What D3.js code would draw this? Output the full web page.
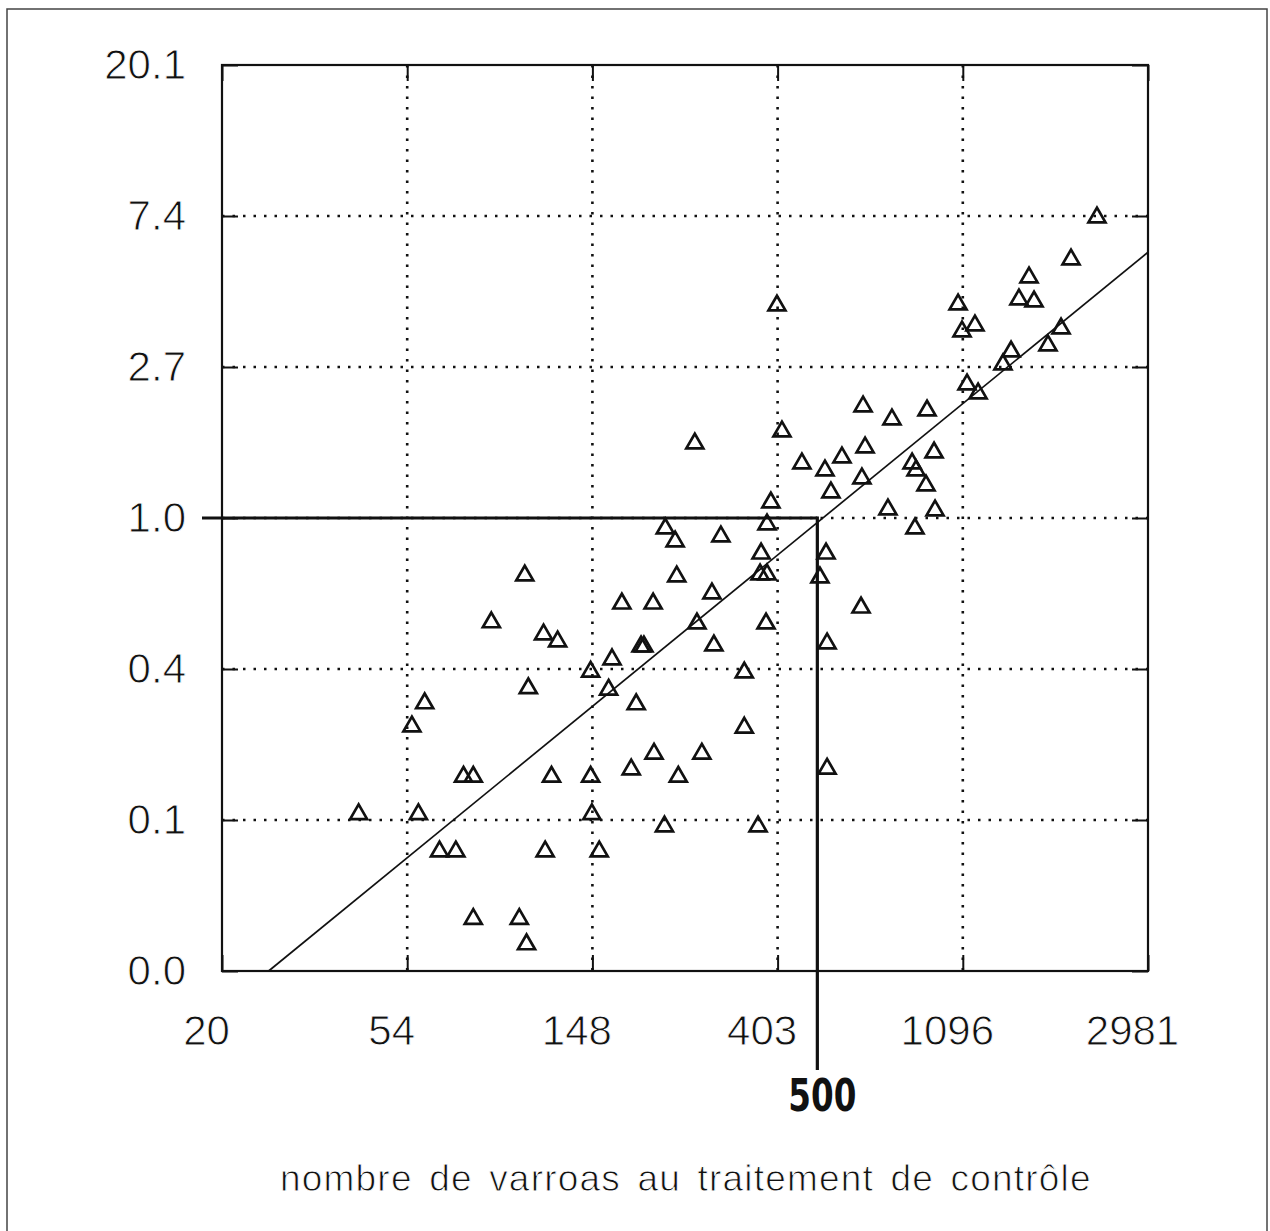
<!DOCTYPE html>
<html>
<head>
<meta charset="utf-8">
<script src="https://cdn.jsdelivr.net/npm/d3@7"></script>
<style>
  body { margin: 0; background: #fff; }
  svg text { font-family: "Liberation Sans", Arial, sans-serif; fill: #111; }
  /* the scan has thin lettering: erode the glyphs a little with a white outline */
  svg text.thin { stroke: #fff; stroke-width: 0.9px; paint-order: normal; }
</style>
</head>
<body>
<div id="display"></div>
<script>
// ------- data -----------------------------------------

// axes are natural-log scales, labels are e^k
var xTickPowers = [3, 4, 5, 6, 7, 8];
var xTickLabels = ["20", "54", "148", "403", "1096", "2981"];
var yTickPowers = [-3, -2, -1, 0, 1, 2, 3];
var yTickLabels = ["0.0", "0.1", "0.4", "1.0", "2.7", "7.4", "20.1"];

// nombre de varroas au traitement de contrôle
var controlCounts = [42, 56, 60, 58, 65, 71, 74, 78, 78, 86, 100, 103, 104, 105, 114, 115,
  119, 123, 147, 147, 148, 154, 162, 165, 174, 183, 188, 193, 196, 206, 207, 220, 219, 232,
  234, 236, 261, 258, 268, 283, 286, 297, 337, 337, 363, 369, 367, 381, 381, 379, 389, 402,
  413, 460, 507, 524, 521, 527, 527, 538, 571, 633, 636, 640, 647, 732, 748, 834, 852, 847,
  899, 904, 939, 944, 1069, 1092, 1122, 1171, 1191, 1362, 1423, 1485, 1568, 1611, 1737,
  1864, 1967, 2263];

var yValues = [0.142, 0.254, 0.296, 0.142, 0.111, 0.111, 0.182, 0.182, 0.071, 0.506, 0.071,
  0.690, 0.060, 0.327, 0.467, 0.111, 0.182, 0.446, 0.365, 0.182, 0.142, 0.111, 0.324, 0.396,
  0.573, 0.191, 0.294, 0.431, 0.431, 0.573, 0.212, 0.942, 0.131, 0.865, 0.686, 0.182, 0.502,
  1.654, 0.212, 0.613, 0.434, 0.894, 0.363, 0.252, 0.131, 0.798, 0.695, 0.695, 0.968, 0.502,
  1.119, 4.125, 1.791, 1.449, 0.681, 0.798, 1.384, 0.440, 0.192, 1.196, 1.508, 0.558, 1.312,
  2.114, 1.611, 1.069, 1.940, 1.449, 1.384, 0.942, 1.253, 2.058, 1.558, 1.062, 4.153, 3.473,
  2.446, 3.614, 2.304, 2.791, 3.042, 4.293, 4.966, 4.236, 3.166, 3.542, 5.596, 7.389];

// regression on ln scales: ln(y) = a + b ln(x)
var fitIntercept = -6.26;
var fitSlope = 1.0025;

// reference point marked on the figure
var refX = 500;
var refY = 1.0;
var refLabel = "500";

var axisTitle = "nombre de varroas au traitement de contrôle";

// ------- setup -----------

var W = 1270, H = 1231;
var plot = {left: 222, right: 1148, top: 65, bottom: 971};

var svg = d3.select("#display").append("svg")
  .attr("width", W)
  .attr("height", H)
  .style("display", "block");

svg.append("rect").attr("width", W).attr("height", H).attr("fill", "#fff");

// outer frame of the figure (bottom edge runs off the scan)
svg.append("rect")
  .attr("x", 7).attr("y", 9)
  .attr("width", 1260).attr("height", 1240)
  .attr("fill", "none").attr("stroke", "#444").attr("stroke-width", 1.5);

var x = d3.scaleLog().base(Math.E)
  .domain([Math.exp(3), Math.exp(8)])
  .range([plot.left, plot.right]);

var y = d3.scaleLog().base(Math.E)
  .domain([Math.exp(-3), Math.exp(3)])
  .range([plot.bottom, plot.top]);

var xTicks = xTickPowers.map(function(p) { return Math.exp(p); });
var yTicks = yTickPowers.map(function(p) { return Math.exp(p); });

function labelFor(ticks, labels) {
  return function(d) { return labels[ticks.indexOf(d)]; };
}

// ------- dotted grid -----------

var grid = svg.append("g")
  .attr("stroke", "#111")
  .attr("stroke-width", 2.6)
  .attr("stroke-dasharray", "2.5,8");

grid.selectAll("line.gx")
  .data(xTicks.slice(1, -1))
  .enter().append("line")
  .attr("x1", function(d) { return x(d); })
  .attr("x2", function(d) { return x(d); })
  .attr("y1", plot.top).attr("y2", plot.bottom);

grid.selectAll("line.gy")
  .data(yTicks.slice(1, -1))
  .enter().append("line")
  .attr("y1", function(d) { return y(d); })
  .attr("y2", function(d) { return y(d); })
  .attr("x1", plot.left).attr("x2", plot.right);

// ------- axes, ticks pointing inward on all four sides -----------

function styleAxis(g) {
  g.select(".domain").remove();
  g.selectAll(".tick line").attr("stroke", "#111").attr("stroke-width", 2);
  g.selectAll(".tick text")
    .classed("thin", true)
    .style("font-size", "42px")
    .attr("fill", "#111");
}

var gBottom = svg.append("g")
  .attr("transform", "translate(0," + plot.bottom + ")")
  .call(d3.axisBottom(x).tickValues(xTicks).tickSizeInner(-16).tickSizeOuter(0)
    .tickPadding(44).tickFormat(labelFor(xTicks, xTickLabels)))
  .call(styleAxis);
gBottom.selectAll(".tick text").attr("x", -16);

svg.append("g")
  .attr("transform", "translate(0," + plot.top + ")")
  .call(d3.axisTop(x).tickValues(xTicks).tickSizeInner(-16).tickSizeOuter(0).tickFormat(""))
  .call(styleAxis);

svg.append("g")
  .attr("transform", "translate(" + plot.left + ",0)")
  .call(d3.axisLeft(y).tickValues(yTicks).tickSizeInner(-16).tickSizeOuter(0)
    .tickPadding(36).tickFormat(labelFor(yTicks, yTickLabels)))
  .call(styleAxis);

svg.append("g")
  .attr("transform", "translate(" + plot.right + ",0)")
  .call(d3.axisRight(y).tickValues(yTicks).tickSizeInner(-16).tickSizeOuter(0).tickFormat(""))
  .call(styleAxis);

// plot box
svg.append("rect")
  .attr("x", plot.left).attr("y", plot.top)
  .attr("width", plot.right - plot.left).attr("height", plot.bottom - plot.top)
  .attr("fill", "none").attr("stroke", "#111").attr("stroke-width", 2.2);

// ------- regression line -----------

var lnXStart = (Math.log(y.domain()[0]) - fitIntercept) / fitSlope;
var lnXEnd = Math.log(x.domain()[1]);
var fitLine = [lnXStart, lnXEnd].map(function(lx) {
  return [Math.exp(lx), Math.exp(fitIntercept + fitSlope * lx)];
});

svg.append("path")
  .datum(fitLine)
  .attr("fill", "none")
  .attr("stroke", "#111")
  .attr("stroke-width", 1.7)
  .attr("d", d3.line()
    .x(function(d) { return x(d[0]); })
    .y(function(d) { return y(d[1]); }));

// ------- reference lines at 500 / 1.0 -----------

svg.append("line")
  .attr("x1", plot.left - 20).attr("x2", x(refX))
  .attr("y1", y(refY)).attr("y2", y(refY))
  .attr("stroke", "#111").attr("stroke-width", 3.2);

svg.append("line")
  .attr("x1", x(refX)).attr("x2", x(refX))
  .attr("y1", y(refY) - 1.5).attr("y2", 1070)
  .attr("stroke", "#111").attr("stroke-width", 3.2);

svg.append("text")
  .attr("x", x(refX) + 5).attr("y", 1111)
  .attr("text-anchor", "middle")
  .attr("textLength", 68)
  .attr("lengthAdjust", "spacingAndGlyphs")
  .style("font-family", "'Liberation Sans Narrow', 'DejaVu Sans Condensed', sans-serif")
  .style("font-weight", "bold")
  .style("font-size", "44px")
  .text(refLabel);

// ------- points -----------

var points = controlCounts.map(function(c, i) { return {x: c, y: yValues[i]}; });

svg.append("g").selectAll("path")
  .data(points)
  .enter().append("path")
  .attr("transform", function(d) { return "translate(" + x(d.x) + "," + (y(d.y) + 1.5) + ")"; })
  .attr("d", d3.symbol().type(d3.symbolTriangle).size(125))
  .attr("fill", "none")
  .attr("stroke", "#111")
  .attr("stroke-width", 2.7)
  .attr("stroke-linejoin", "miter");

// ------- axis title -----------

svg.append("text")
  .attr("class", "thin")
  .attr("x", 280).attr("y", 1191)
  .style("font-size", "37px")
  .style("letter-spacing", "1.2px")
  .style("word-spacing", "5px")
  .text(axisTitle);
</script>
</body>
</html>
